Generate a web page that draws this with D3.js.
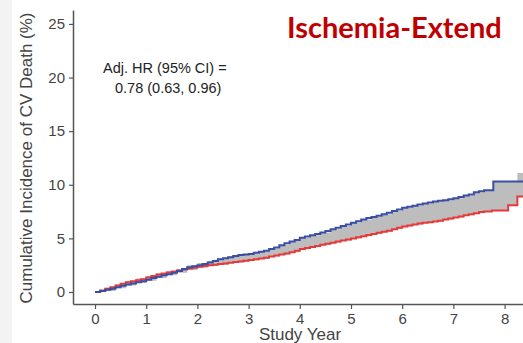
<!DOCTYPE html>
<html>
<head>
<meta charset="utf-8">
<script src="https://cdn.jsdelivr.net/npm/d3@7"></script>
<style>
  body { margin: 0; background: #fff; }
  svg { display: block; }
</style>
</head>
<body>
<svg id="chart"></svg>
<script>
var chartWidth = 523;
var chartHeight = 343;

/********
 * Data *
 ********/

var xTicks = [0, 1, 2, 3, 4, 5, 6, 7, 8];
var yTicks = [0, 5, 10, 15, 20, 25];

// blue arm (upper at the end)
var blueYears = [0, 0.1, 0.2, 0.3, 0.4, 0.5, 0.6, 0.7, 0.8, 0.9, 1.0, 1.1, 1.2, 1.3, 1.4, 1.5, 1.6, 1.7, 1.8, 1.9,
  2.0, 2.1, 2.2, 2.3, 2.4, 2.5, 2.6, 2.7, 2.8, 2.9, 3.0, 3.1, 3.2, 3.3, 3.4, 3.5, 3.6, 3.7, 3.8, 3.9,
  4.0, 4.1, 4.2, 4.3, 4.4, 4.5, 4.6, 4.7, 4.8, 4.9, 5.0, 5.1, 5.2, 5.3, 5.4, 5.5, 5.6, 5.7, 5.8, 5.9,
  6.0, 6.1, 6.2, 6.3, 6.4, 6.5, 6.6, 6.7, 6.8, 6.9, 7.0, 7.1, 7.2, 7.3, 7.4, 7.5, 7.6, 7.78, 8.36];
var blueValues = [0, 0.1, 0.2, 0.3, 0.45, 0.58, 0.7, 0.8, 0.9, 1.0, 1.15, 1.3, 1.42, 1.55, 1.65, 1.8, 1.95, 2.15, 2.3, 2.4,
  2.5, 2.6, 2.75, 2.9, 3.05, 3.15, 3.25, 3.35, 3.45, 3.5, 3.55, 3.65, 3.75, 3.85, 4.0, 4.15, 4.35, 4.55, 4.7, 4.85,
  5.05, 5.17, 5.3, 5.4, 5.55, 5.7, 5.85, 6.0, 6.15, 6.3, 6.45, 6.6, 6.75, 6.9, 7.0, 7.1, 7.25, 7.4, 7.55, 7.7,
  7.85, 7.95, 8.05, 8.15, 8.25, 8.35, 8.44, 8.5, 8.55, 8.65, 8.75, 8.85, 9.0, 9.1, 9.3, 9.4, 9.5, 10.3, 10.3];

// red arm (lower at the end)
var redYears = [0, 0.1, 0.2, 0.3, 0.4, 0.5, 0.6, 0.7, 0.8, 0.9, 1.0, 1.1, 1.2, 1.3, 1.4, 1.5, 1.6, 1.7, 1.8, 1.9,
  2.0, 2.1, 2.2, 2.3, 2.4, 2.5, 2.6, 2.7, 2.8, 2.9, 3.0, 3.1, 3.2, 3.3, 3.4, 3.5, 3.6, 3.7, 3.8, 3.9,
  4.0, 4.1, 4.2, 4.3, 4.4, 4.5, 4.6, 4.7, 4.8, 4.9, 5.0, 5.1, 5.2, 5.3, 5.4, 5.5, 5.6, 5.7, 5.8, 5.9,
  6.0, 6.1, 6.2, 6.3, 6.4, 6.5, 6.6, 6.7, 6.8, 6.9, 7.0, 7.1, 7.2, 7.3, 7.4, 7.5, 7.6, 7.75, 8.07, 8.25, 8.36];
var redValues = [0, 0.15, 0.3, 0.45, 0.6, 0.78, 0.92, 1.0, 1.1, 1.2, 1.35, 1.5, 1.62, 1.72, 1.82, 1.92, 2.0, 2.1, 2.2, 2.27,
  2.35, 2.42, 2.5, 2.55, 2.6, 2.65, 2.72, 2.8, 2.85, 2.92, 2.98, 3.05, 3.12, 3.2, 3.3, 3.4, 3.5, 3.6, 3.7, 3.85,
  4.0, 4.1, 4.2, 4.3, 4.4, 4.5, 4.6, 4.7, 4.8, 4.9, 5.0, 5.1, 5.2, 5.32, 5.42, 5.52, 5.62, 5.72, 5.85, 5.98,
  6.1, 6.2, 6.3, 6.38, 6.45, 6.5, 6.57, 6.65, 6.75, 6.85, 6.95, 7.05, 7.15, 7.25, 7.35, 7.45, 7.5, 7.6, 8.1, 8.9, 8.9];

// grey band
var bandYears = [0, 0.2, 0.4, 0.6, 0.8, 1.0, 1.2, 1.4, 1.6, 1.8, 2.0, 2.2, 2.4, 2.6, 2.8, 3.0, 3.2, 3.4, 3.6, 3.8,
  4.0, 4.2, 4.4, 4.6, 4.8, 5.0, 5.2, 5.4, 5.6, 5.8, 6.0, 6.2, 6.4, 6.6, 6.8, 7.0, 7.2, 7.4, 7.6, 7.78, 8.07, 8.25, 8.36];
var bandHigh = [0, 0.4, 0.7, 1.0, 1.25, 1.5, 1.75, 1.95, 2.15, 2.5, 2.7, 2.9, 3.15, 3.3, 3.5, 3.6, 3.8, 4.05, 4.4, 4.75,
  5.05, 5.3, 5.55, 5.85, 6.15, 6.45, 6.75, 7.0, 7.25, 7.55, 7.85, 8.05, 8.25, 8.45, 8.55, 8.75, 9.0, 9.3, 9.5, 10.25, 10.25, 11.1, 11.1];
var bandLow = [0, 0.1, 0.35, 0.6, 0.85, 1.05, 1.3, 1.55, 1.8, 2.05, 2.25, 2.45, 2.55, 2.7, 2.85, 2.95, 3.1, 3.3, 3.5, 3.7,
  4.0, 4.2, 4.4, 4.6, 4.8, 5.0, 5.2, 5.42, 5.62, 5.85, 6.1, 6.3, 6.45, 6.57, 6.75, 6.95, 7.15, 7.35, 7.5, 7.6, 8.1, 8.9, 8.9];

/**********
 * Scales *
 **********/

var x = d3.scaleLinear().domain([-0.43, 8.36]).range([73, 523]);
var y = d3.scaleLinear().domain([-1.12, 26.3]).range([304, 10]);

var canvas = d3.select("#chart")
    .attr("width", chartWidth)
    .attr("height", chartHeight)
    .style("font-family", "'Liberation Sans', Arial, sans-serif");

// light strip on the left edge
canvas.append("rect")
    .attr("x", 0).attr("y", 0)
    .attr("width", 12).attr("height", chartHeight)
    .attr("fill", "#f3f3f3");

canvas.append("clipPath").attr("id", "plotClip")
  .append("rect")
    .attr("x", 73).attr("y", 0)
    .attr("width", chartWidth - 73).attr("height", 304);

var plot = canvas.append("g").attr("clip-path", "url(#plotClip)");

// band
var band = bandYears.map(function(d, i) { return {t: d, lo: bandLow[i], hi: bandHigh[i]}; });
plot.append("path")
    .datum(band)
    .attr("fill", "#bdbdbd")
    .attr("d", d3.area()
        .curve(d3.curveStepAfter)
        .x(function(d) { return x(d.t); })
        .y0(function(d) { return y(d.lo); })
        .y1(function(d) { return y(d.hi); }));

var line = d3.line()
    .curve(d3.curveStepAfter)
    .x(function(d) { return x(d[0]); })
    .y(function(d) { return y(d[1]); });

plot.append("path")
    .datum(redYears.map(function(d, i) { return [d, redValues[i]]; }))
    .attr("fill", "none")
    .attr("stroke", "#e8393a")
    .attr("stroke-width", 2)
    .attr("d", line);

plot.append("path")
    .datum(blueYears.map(function(d, i) { return [d, blueValues[i]]; }))
    .attr("fill", "none")
    .attr("stroke", "#3a4ea3")
    .attr("stroke-width", 2)
    .attr("d", line);

/********
 * Axes *
 ********/

var xAxisGroup = canvas.append("g")
    .attr("transform", "translate(0,304)")
    .call(d3.axisBottom(x).tickValues(xTicks).tickSize(5).tickSizeOuter(0).tickPadding(4));

var yAxisGroup = canvas.append("g")
    .attr("transform", "translate(73,0)")
    .call(d3.axisLeft(y).tickValues(yTicks).tickSize(4).tickSizeOuter(0).tickPadding(4));

[xAxisGroup, yAxisGroup].forEach(function(g) {
    g.select(".domain").attr("stroke", "#555").attr("stroke-width", 1.5);
    g.selectAll(".tick line").attr("stroke", "#555").attr("stroke-width", 1.2);
    g.selectAll("text")
        .attr("fill", "#444")
        .style("font-family", "'Liberation Sans', Arial, sans-serif")
        .style("font-size", "15px");
});

/**********
 * Labels *
 **********/

canvas.append("text")
    .attr("text-anchor", "middle")
    .attr("transform", "translate(32,158) rotate(-90)")
    .attr("fill", "#444")
    .style("font-size", "17px")
    .text("Cumulative Incidence of CV Death (%)");

canvas.append("text")
    .attr("text-anchor", "middle")
    .attr("x", 300)
    .attr("y", 340)
    .attr("fill", "#444")
    .style("font-size", "17px")
    .text("Study Year");

canvas.append("text")
    .attr("x", 103)
    .attr("y", 73)
    .attr("fill", "#222")
    .style("font-size", "14.5px")
    .text("Adj. HR (95% CI) =");

canvas.append("text")
    .attr("x", 115)
    .attr("y", 93)
    .attr("fill", "#222")
    .style("font-size", "14.5px")
    .text("0.78 (0.63, 0.96)");

canvas.append("text")
    .attr("x", 287)
    .attr("y", 38)
    .attr("fill", "#c00000")
    .style("font-family", "Lato, 'Open Sans', sans-serif")
    .style("font-weight", "bold")
    .style("font-size", "29px")
    .text("Ischemia-Extend");
</script>
</body>
</html>
